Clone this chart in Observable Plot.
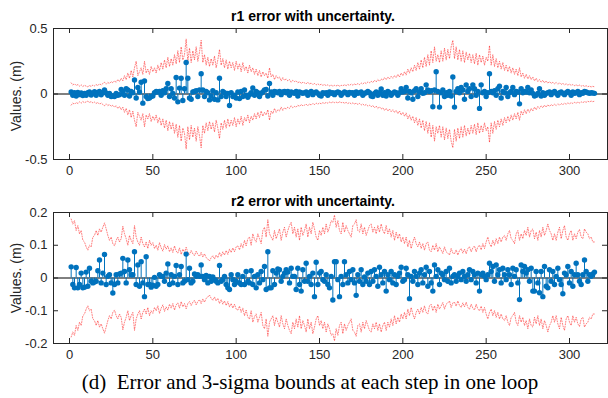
<!DOCTYPE html>
<html>
<head>
<meta charset="utf-8">
<script src="https://cdn.jsdelivr.net/npm/d3@7"></script>
<script src="https://cdn.jsdelivr.net/npm/@observablehq/plot@0.6"></script>
<style>
  html, body { margin: 0; padding: 0; background: #fff; }
  #wrap { position: relative; width: 608px; height: 398px; overflow: hidden; font-family: "Liberation Sans", Arial, sans-serif; background: #fff; }
  .ttl { position: absolute; left: 0; width: 626px; text-align: center; font-weight: bold; font-size: 14px; line-height: 14px; color: #000; z-index: 2; }
  .ylab { position: absolute; width: 120px; height: 16px; line-height: 16px; text-align: center; font-size: 14px; color: #262626; transform: rotate(-90deg); z-index: 2; white-space: pre; }
  #cap { position: absolute; left: 0; width: 620px; text-align: center; font-family: "Liberation Serif", "Times New Roman", serif; font-size: 21px; line-height: 21px; top: 372px; color: #000; white-space: pre; z-index: 2; }
  .pl { position: absolute; left: 0; z-index: 1; }
</style>
</head>
<body>
<div id="wrap">
  <div class="pl" id="p1" style="top:0px"></div>
  <div class="pl" id="p2" style="top:185px"></div>
  <div class="ttl" id="t1" style="top:9px"></div>
  <div class="ttl" id="t2" style="top:194px"></div>
  <div class="ylab" id="yl1" style="left:-44.5px; top:87.5px"></div>
  <div class="ylab" id="yl2" style="left:-44.5px; top:269.5px"></div>
  <div id="cap"></div>
</div>
<script>
// ---- data ----
const xTicks = [0, 50, 100, 150, 200, 250, 300];
const y1Ticks = [-0.5, 0, 0.5];
const y2Ticks = [-0.2, -0.1, 0, 0.1, 0.2];
const yLabel = "Values. (m)";
const titles = ["r1 error with uncertainty.", "r2 error with uncertainty."];
const caption = "(d)  Error and 3-sigma bounds at each step in one loop";

const r1Err = [
  0.015, -0.01, 0.01, -0.015, 0.012, -0.005, 0.008, -0.012, 0.005, -0.01,
  0.01, 0.015, -0.008, 0.005, 0.018, -0.01, 0.012, 0.02, -0.006, 0.01,
  0.03, 0.008, -0.01, 0.005, -0.02, -0.015, -0.02, 0.005, -0.01, -0.005,
  0.035, 0.02, -0.01, 0.04, 0.03, -0.015, 0.02, 0.01, 0.107, -0.03,
  0.05, 0.015, 0.09, -0.07, 0.1, -0.02, -0.035, -0.03, -0.02, -0.015,
  0.01, 0.02, 0.015, 0.02, -0.01, 0.025, 0.01, 0.04, 0.08, -0.02,
  0.04, 0.005, -0.03, 0.126, -0.06, 0.045, 0.12, -0.05, 0.04, 0.24,
  0.12, -0.03, -0.04, 0.015, 0.02, 0.025, -0.02, 0.03, 0.155, 0.03,
  -0.02, 0.02, 0.01, -0.045, -0.015, 0.025, -0.04, 0.01, -0.045, 0.12,
  -0.02, 0.02, 0.01, -0.02, 0.005, -0.088, 0.01, -0.02, -0.01, -0.03,
  0.015, -0.035, 0.02, -0.02, 0.03, -0.01, -0.025, -0.005, 0.01, 0.046,
  -0.01, 0.02, 0.01, -0.02, 0.005, 0.015, 0.03, 0.035, -0.015, 0.08,
  0.015, -0.01, 0.02, 0.015, 0.01, 0.02, -0.005, 0.015, 0.02, 0.01,
  0.02, -0.01, 0.015, 0.01, 0.005, 0.02, -0.015, 0.015, 0.01, 0.005,
  0.01, 0.015, -0.01, 0.01, 0.02, -0.005, 0.01, 0.015, 0.005, -0.01,
  -0.015, 0.01, 0.005, 0.01, -0.01, 0.015, 0.005, 0.01, -0.005, 0.01,
  0.015, 0.01, -0.01, 0.005, 0.015, 0.01, -0.005, 0.012, 0.008, 0.01,
  -0.01, 0.015, 0.005, 0.01, 0.015, -0.01, 0.005, 0.01, 0.02, 0.01,
  -0.015, -0.02, 0.005, 0.015, -0.01, 0.01, 0.038, -0.01, 0.01, -0.015,
  0.02, 0.01, -0.01, 0.005, 0.015, 0.01, -0.01, 0.01, 0.04, 0.015,
  0.02, 0.05, -0.03, 0.02, 0.01, -0.04, 0.025, 0.04, -0.02, 0.015,
  0.04, 0.005, 0.01, 0.07, 0.03, 0.02, 0.025, -0.097, 0.03, 0.17,
  0.02, -0.1, 0.01, 0.03, -0.02, 0.01, -0.01, 0.02, -0.015, 0.13,
  -0.1, 0.02, 0.04, 0.01, 0.05, 0.03, -0.04, 0.07, 0.02, 0.04,
  -0.02, 0.07, 0.04, -0.01, 0.02, -0.11, 0.07, 0.01, 0.02, -0.02,
  0.01, 0.155, 0.02, 0.01, 0.025, -0.01, 0.04, 0.06, -0.03, 0.02,
  0.01, 0.05, -0.02, 0.01, 0.02, 0.05, -0.005, 0.02, 0.015, -0.075,
  0.04, 0.01, 0.02, 0.015, 0.05, 0.01, 0.03, 0.005, -0.015, -0.01,
  0.005, 0.04, -0.015, 0.01, -0.01, 0.005, 0.01, 0.015, -0.005, 0.01,
  0.02, 0.005, -0.01, 0.01, 0.015, 0.005, -0.005, 0.01, 0.02, 0.01,
  -0.01, 0.015, 0.005, 0.01, 0.02, -0.005, 0.01, 0.005, 0.02, 0.015,
  0.01, 0.005, 0.01, 0.008, 0.005
];

const r1Bound = [
  0.085, 0.07, 0.078, 0.065, 0.072, 0.06, 0.07, 0.058, 0.066, 0.06,
  0.055, 0.064, 0.058, 0.068, 0.062, 0.072, 0.064, 0.078, 0.07, 0.08,
  0.09, 0.075, 0.088, 0.08, 0.095, 0.085, 0.1, 0.09, 0.11, 0.095,
  0.12, 0.1, 0.14, 0.11, 0.16, 0.12, 0.18, 0.13, 0.2, 0.25,
  0.14, 0.17, 0.2, 0.15, 0.25, 0.16, 0.19, 0.15, 0.21, 0.17,
  0.2, 0.16, 0.22, 0.18, 0.24, 0.19, 0.26, 0.2, 0.28, 0.21,
  0.27, 0.22, 0.3, 0.23, 0.33, 0.24, 0.36, 0.26, 0.3, 0.42,
  0.25, 0.35, 0.24, 0.33, 0.26, 0.36, 0.25, 0.32, 0.41, 0.24,
  0.3, 0.22, 0.28, 0.21, 0.27, 0.22, 0.29, 0.2, 0.26, 0.34,
  0.22, 0.27, 0.2, 0.26, 0.19, 0.25, 0.2, 0.24, 0.18, 0.25,
  0.19, 0.23, 0.17, 0.24, 0.18, 0.21, 0.16, 0.22, 0.17, 0.2,
  0.15, 0.19, 0.14, 0.18, 0.13, 0.17, 0.14, 0.16, 0.12, 0.2,
  0.13, 0.15, 0.11, 0.14, 0.12, 0.13, 0.1, 0.125, 0.105, 0.115,
  0.1, 0.11, 0.09, 0.105, 0.095, 0.1, 0.085, 0.095, 0.08, 0.09,
  0.085, 0.078, 0.09, 0.075, 0.085, 0.072, 0.08, 0.07, 0.078, 0.068,
  0.075, 0.066, 0.072, 0.064, 0.07, 0.062, 0.068, 0.06, 0.066, 0.062,
  0.068, 0.06, 0.066, 0.063, 0.07, 0.064, 0.072, 0.066, 0.075, 0.068,
  0.076, 0.07, 0.08, 0.072, 0.084, 0.076, 0.088, 0.08, 0.092, 0.085,
  0.098, 0.088, 0.105, 0.092, 0.11, 0.098, 0.115, 0.105, 0.125, 0.11,
  0.13, 0.115, 0.135, 0.12, 0.14, 0.125, 0.15, 0.13, 0.16, 0.14,
  0.17, 0.145, 0.19, 0.16, 0.2, 0.17, 0.22, 0.18, 0.24, 0.19,
  0.26, 0.2, 0.28, 0.21, 0.3, 0.22, 0.33, 0.24, 0.36, 0.25,
  0.3, 0.24, 0.33, 0.25, 0.35, 0.26, 0.34, 0.27, 0.36, 0.41,
  0.27, 0.36, 0.26, 0.34, 0.25, 0.33, 0.24, 0.32, 0.26, 0.31,
  0.24, 0.3, 0.23, 0.31, 0.22, 0.3, 0.24, 0.29, 0.22, 0.28,
  0.25, 0.37, 0.22, 0.3, 0.21, 0.27, 0.2, 0.25, 0.19, 0.24,
  0.18, 0.22, 0.17, 0.21, 0.16, 0.2, 0.15, 0.19, 0.14, 0.2,
  0.13, 0.16, 0.12, 0.15, 0.115, 0.14, 0.11, 0.13, 0.1, 0.12,
  0.095, 0.11, 0.09, 0.105, 0.085, 0.1, 0.082, 0.095, 0.08, 0.09,
  0.078, 0.088, 0.075, 0.085, 0.072, 0.082, 0.07, 0.078, 0.068, 0.075,
  0.066, 0.072, 0.064, 0.07, 0.062, 0.068, 0.06, 0.066, 0.058, 0.063,
  0.056, 0.06, 0.054, 0.058, 0.055
];

const r2Err = [
  0.034, -0.02, -0.03, 0.032, -0.03, -0.02, 0.015, -0.03, -0.028, 0.018,
  -0.025, 0.03, -0.01, -0.015, -0.012, -0.01, 0.022, 0.055, -0.015, 0.015,
  0.072, -0.02, 0.005, 0.01, -0.015, -0.046, -0.02, 0.01, -0.015, 0.012,
  0.015, 0.06, 0.02, -0.015, 0.055, 0.025, 0.01, 0.01, 0.08, -0.02,
  0.04, -0.025, 0.05, -0.015, -0.057, 0.065, -0.02, -0.02, -0.028, -0.022,
  0.002, -0.025, -0.02, 0.01, 0.005, 0.005, -0.01, 0.015, 0.043, -0.02,
  0.01, -0.015, 0.005, 0.038, -0.02, 0.01, 0.035, -0.015, -0.01, 0.073,
  -0.005, 0.03, -0.015, -0.01, 0.012, 0.005, 0.01, 0.005, 0.04, 0.005,
  -0.005, 0.008, -0.015, 0.005, -0.01, 0.003, -0.005, -0.01, -0.015, 0.038,
  -0.01, -0.005, 0.005, -0.02, -0.03, -0.035, 0.01, -0.005, -0.02, -0.01,
  0.01, -0.015, -0.02, 0.005, -0.02, 0.02, -0.01, -0.015, 0.022, -0.02,
  0.005, -0.03, 0.01, -0.015, 0.02, -0.005, 0.035, -0.035, 0.08, -0.03,
  -0.03, 0.022, -0.02, 0.015, 0.028, 0.025, -0.01, 0.005, 0.015, 0.025,
  0.018, -0.015, 0.03, 0.005, 0.005, -0.035, 0.03, -0.02, -0.04, 0.025,
  -0.01, 0.045, -0.01, 0.005, -0.02, 0.015, -0.057, 0.048, -0.02, 0.015,
  0.02, -0.005, -0.01, 0.01, -0.02, -0.03, 0.005, -0.067, 0.05, 0.05,
  -0.005, -0.057, 0.005, -0.02, 0.05, 0.01, -0.015, 0.02, -0.005, 0.025,
  -0.015, -0.053, 0.01, -0.01, 0.025, -0.02, 0.003, -0.01, 0.015, -0.02,
  0.02, -0.01, 0.025, 0.005, -0.025, 0.033, 0.01, -0.015, 0.02, -0.04,
  0.01, -0.005, 0.02, -0.015, 0.01, -0.02, 0.005, 0.015, 0.033, -0.01,
  -0.005, 0.03, 0.01, -0.063, 0.005, -0.01, 0.02, 0.005, -0.02, 0.015,
  0.025, -0.015, 0.01, 0.033, -0.025, 0.02, -0.015, -0.04, 0.04, 0.005,
  0.025, -0.02, 0.015, 0.01, -0.005, 0.02, -0.01, 0.03, -0.015, 0.005,
  0.01, -0.01, 0.005, 0.015, -0.005, 0.02, 0.005, -0.01, 0.01, 0.025,
  -0.005, 0.02, 0.01, -0.015, 0.015, -0.04, 0.01, 0.015, 0.005, -0.005,
  0.01, 0.045, 0.02, 0.035, -0.01, 0.04, 0.01, 0.025, -0.015, 0.03,
  0.01, -0.005, 0.025, 0.01, -0.02, 0.03, 0.005, 0.025, -0.015, -0.066,
  0.04, 0.02, 0.035, 0.015, 0.025, -0.01, 0.03, -0.04, -0.04, 0.02,
  -0.015, -0.045, 0.02, -0.057, 0.035, -0.025, -0.03, 0.025, -0.01, 0.02,
  -0.02, 0.005, 0.03, -0.005, -0.02, -0.048, 0.015, 0.01, 0.035, -0.015,
  0.02, -0.025, 0.01, 0.045, 0.01, -0.01, -0.02, 0.01, 0.055, 0.02,
  -0.01, 0.01, 0.005, 0.012, 0.018
];

const r2Bound = [
  0.18, 0.165, 0.175, 0.145, 0.16, 0.135, 0.145, 0.115, 0.11, 0.095,
  0.085, 0.1, 0.095, 0.125, 0.13, 0.145, 0.13, 0.15, 0.14, 0.155,
  0.168, 0.15, 0.13, 0.115, 0.125, 0.105, 0.098, 0.115, 0.125, 0.11,
  0.12, 0.158, 0.135, 0.12, 0.1, 0.13, 0.115, 0.105, 0.16, 0.125,
  0.11, 0.1, 0.125, 0.105, 0.095, 0.11, 0.09, 0.115, 0.1, 0.108,
  0.09, 0.1, 0.085, 0.108, 0.092, 0.082, 0.102, 0.088, 0.098, 0.08,
  0.092, 0.078, 0.098, 0.082, 0.076, 0.092, 0.072, 0.088, 0.078, 0.094,
  0.078, 0.072, 0.084, 0.074, 0.068, 0.082, 0.072, 0.066, 0.078, 0.064,
  0.074, 0.062, 0.058, 0.052, 0.062, 0.068, 0.058, 0.07, 0.062, 0.078,
  0.066, 0.08, 0.07, 0.084, 0.072, 0.088, 0.078, 0.092, 0.08, 0.095,
  0.098, 0.086, 0.105, 0.092, 0.115, 0.098, 0.12, 0.125, 0.1, 0.135,
  0.118, 0.11, 0.135, 0.12, 0.105, 0.145, 0.155, 0.125, 0.178, 0.135,
  0.125, 0.115, 0.145, 0.12, 0.135, 0.15, 0.115, 0.14, 0.155, 0.125,
  0.145, 0.16, 0.17, 0.135, 0.155, 0.125, 0.15, 0.115, 0.155, 0.13,
  0.145, 0.165, 0.125, 0.155, 0.135, 0.17, 0.15, 0.125, 0.115, 0.145,
  0.13, 0.155, 0.135, 0.165, 0.14, 0.155, 0.175, 0.17, 0.192, 0.155,
  0.175, 0.145, 0.135, 0.17, 0.14, 0.16, 0.145, 0.135, 0.125, 0.16,
  0.165, 0.178, 0.145, 0.14, 0.165, 0.135, 0.155, 0.13, 0.145, 0.16,
  0.165, 0.14, 0.155, 0.135, 0.16, 0.14, 0.165, 0.145, 0.135, 0.16,
  0.135, 0.15, 0.125, 0.145, 0.115, 0.14, 0.12, 0.135, 0.11, 0.125,
  0.105, 0.125, 0.095, 0.115, 0.09, 0.11, 0.125, 0.105, 0.095, 0.11,
  0.09, 0.105, 0.085, 0.105, 0.11, 0.085, 0.08, 0.1, 0.085, 0.105,
  0.08, 0.095, 0.085, 0.075, 0.095, 0.08, 0.076, 0.07, 0.09, 0.076,
  0.074, 0.086, 0.07, 0.084, 0.09, 0.076, 0.088, 0.074, 0.09, 0.095,
  0.08, 0.092, 0.098, 0.08, 0.095, 0.1, 0.086, 0.105, 0.09, 0.11,
  0.125, 0.105, 0.095, 0.115, 0.1, 0.12, 0.105, 0.125, 0.11, 0.125,
  0.13, 0.115, 0.135, 0.145, 0.12, 0.115, 0.105, 0.135, 0.145, 0.115,
  0.135, 0.12, 0.145, 0.13, 0.155, 0.125, 0.145, 0.15, 0.12, 0.14,
  0.115, 0.145, 0.125, 0.155, 0.13, 0.145, 0.165, 0.145, 0.135, 0.115,
  0.135, 0.115, 0.14, 0.155, 0.12, 0.145, 0.16, 0.125, 0.115, 0.135,
  0.145, 0.115, 0.135, 0.12, 0.14, 0.148, 0.125, 0.12, 0.15, 0.14,
  0.135, 0.12, 0.125, 0.11, 0.11
];

// ---- text ----
document.getElementById("t1").textContent = titles[0];
document.getElementById("t2").textContent = titles[1];
document.getElementById("yl1").textContent = yLabel;
document.getElementById("yl2").textContent = yLabel;
document.getElementById("cap").textContent = caption;

// ---- drawing ----
const W = 608, H = 185;
const mL = 53, mR = 1;
const blue = "#0072BD";
const red = "#ff2020";

function panel(err, bound, yDomain, yTicks, mT, mB) {
  const steps = err.map((_, k) => k + 1);
  const rows = steps.map((s, k) => ({step: s, err: err[k], up: bound[k], lo: -bound[k]}));
  const fw = W - mL - mR;
  const fh = H - mT - mB;
  const tk = 5;
  return Plot.plot({
    width: W, height: H,
    marginLeft: mL, marginRight: mR, marginTop: mT, marginBottom: mB,
    style: {fontFamily: "'Liberation Sans', Arial, sans-serif", fontSize: "13px", color: "#262626", background: "transparent"},
    x: {domain: [-9.6, 322.8]},
    y: {domain: yDomain},
    marks: [
      Plot.ruleY([0], {stroke: "#000", strokeWidth: 1}),
      Plot.line(rows, {x: "step", y: "up", stroke: red, strokeWidth: 0.8, strokeDasharray: "1 1.6", strokeOpacity: 0.72}),
      Plot.line(rows, {x: "step", y: "lo", stroke: red, strokeWidth: 0.8, strokeDasharray: "1 1.6", strokeOpacity: 0.72}),
      Plot.ruleX(rows, {x: "step", y1: 0, y2: "err", stroke: blue, strokeWidth: 1}),
      Plot.dot(rows, {x: "step", y: "err", r: 2.7, fill: blue, stroke: "none"}),
      Plot.frame({stroke: "#262626", strokeWidth: 1}),
      Plot.tickX(xTicks, {x: d => d, insetTop: fh - tk, stroke: "#262626"}),
      Plot.tickX(xTicks, {x: d => d, insetBottom: fh - tk, stroke: "#262626"}),
      Plot.tickY(yTicks, {y: d => d, insetRight: fw - tk, stroke: "#262626"}),
      Plot.tickY(yTicks, {y: d => d, insetLeft: fw - tk, stroke: "#262626"}),
      Plot.axisX(xTicks, {tickSize: 0, tickPadding: 6, label: null, tickFormat: d => String(d), fill: "#262626", fontSize: 13}),
      Plot.axisY(yTicks, {tickSize: 0, tickPadding: 6, label: null, tickFormat: d => String(d), fill: "#262626", fontSize: 13})
    ]
  });
}

document.getElementById("p1").appendChild(panel(r1Err, r1Bound, [-0.5, 0.5], y1Ticks, 28, 26));
document.getElementById("p2").appendChild(panel(r2Err, r2Bound, [-0.2, 0.2], y2Ticks, 27, 27));
</script>
</body>
</html>
